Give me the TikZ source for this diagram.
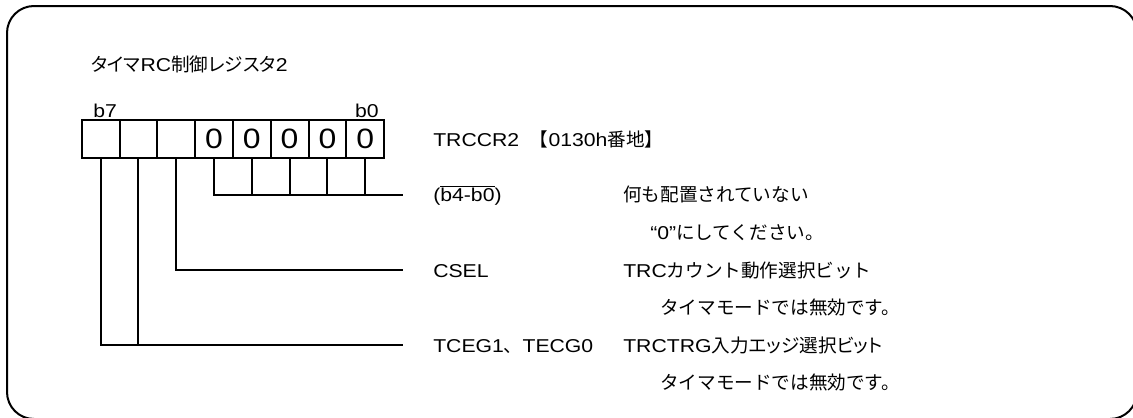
\documentclass[tikz,border=0pt]{standalone}
\usepackage{fontspec}
\setmainfont{Liberation Sans}[FakeStretch=1.14]
\newfontfamily\jpfont{Noto Sans CJK JP}
\newfontfamily\jppfont{Noto Sans CJK JP}[RawFeature=+palt]
\newcommand{\jpn}[1]{{\jpfont #1}}
\newcommand{\jpp}[1]{{\jppfont #1}}

\tikzset{
  regcell/.style={draw, line width=1.5pt, minimum size=28.35pt, inner sep=0pt,
    font=\fontsize{21pt}{21pt}\selectfont},
  lbl/.style={anchor=base west, inner sep=0pt, font=\fontsize{13.95pt}{16pt}\selectfont},
  lead/.style={line width=1.5pt},
}

\begin{document}
\begin{tikzpicture}[x=0.75pt, y=-0.75pt]
\useasboundingbox (0,0) rectangle (1133,418);
\clip (0,0) rectangle (1133,418);

% Frame
\draw[line width=1.5pt, rounded corners=20.25pt] (7,6) rectangle (1137,419);

% Title
\node[lbl] (title) at (91,71) {\jpp{タイマ}RC\jpp{制御レジスタ}2};

% Bit numbers
\node[lbl] (b7) at (93,117) {b7};
\node[lbl, anchor=base east] (b0) at (379,117) {b0};

% Register cells
\node[regcell] (c7) at (100.6,139) {};
\node[regcell] (c6) at (138.4,139) {};
\node[regcell] (c5) at (176.2,139) {};
\node[regcell] (c4) at (214.0,139) {0};
\node[regcell] (c3) at (251.8,139) {0};
\node[regcell] (c2) at (289.6,139) {0};
\node[regcell] (c1) at (327.4,139) {0};
\node[regcell] (c0) at (365.2,139) {0};

% Register name
\node[lbl] (reg) at (433,146) {TRCCR2\hspace{8pt}\jpn{【}0130h\jpn{番地】}};

% Line ends
\coordinate (e40) at (403,195);
\coordinate (ecsel) at (403,270.2);
\coordinate (etceg) at (403,345.4);

% b4-b0
\draw[lead] (c4.south) |- (e40);
\draw[lead] (c3.south) -- (c3.south |- e40);
\draw[lead] (c2.south) -- (c2.south |- e40);
\draw[lead] (c1.south) -- (c1.south |- e40);
\draw[lead] (c0.south) -- (c0.south |- e40);
\node[lbl] (n40) at (433,201.7) {($\overline{\mbox{b4-b0}}$)};
\node[lbl] (d40) at (623,201.7) {\jpn{何も配置されていない}};
\node[lbl] (s40) at (650,239.3) {“0”\jpn{にしてください。}};

% CSEL
\draw[lead] (c5.south) |- (ecsel);
\node[lbl] (ncsel) at (433,277) {CSEL};
\node[lbl] (dcsel) at (623,277) {TRC\jpn{カウント動作選択ビット}};
\node[lbl] (scsel) at (660,314.5) {\jpn{タイマモードでは無効です。}};

% TCEG1, TECG0
\draw[lead] (c7.south) |- (etceg);
\draw[lead] (c6.south) -- (c6.south |- etceg);
\node[lbl] (ntceg) at (433,352) {TCEG1\jpn{、}TECG0};
\node[lbl] (dtceg) at (623,352) {TRCTRG\jpp{入力エッジ}\jpn{選択}\jpp{ビット}};
\node[lbl] (stceg) at (660,389.7) {\jpn{タイマモードでは無効です。}};

\end{tikzpicture}
\end{document}
